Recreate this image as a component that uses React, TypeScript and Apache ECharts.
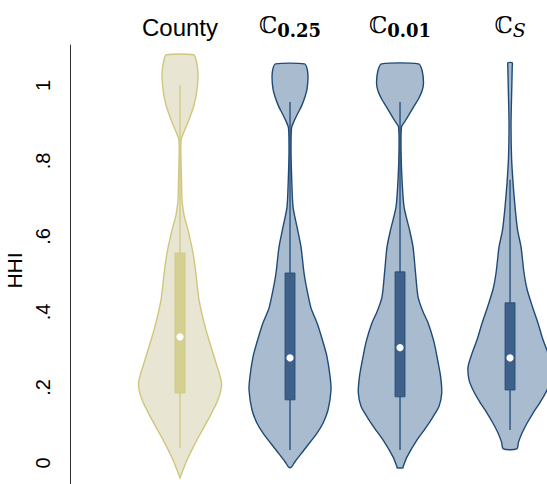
import React, { useEffect, useRef } from "react";
import * as echarts from "echarts";

// ---- data ----
const categories = ["County", "C0.25", "C0.01", "CS"];
const positions = [1, 2, 3, 4];
const yTicks = [0, 0.2, 0.4, 0.6, 0.8, 1];

// violin density profiles: HHI value and half-width (density, px-like units)
const countyY = [1.081, 1.068, 1.033, 0.988, 0.948, 0.909, 0.877, 0.856, 0.829, 0.75, 0.697, 0.657, 0.617, 0.556, 0.5, 0.432, 0.352, 0.273, 0.212, 0.167, 0.114, 0.061, 0.008, -0.04];
const countyW = [13.5, 16, 18, 17, 14, 9, 4, 1.2, 0.8, 1.5, 2, 4, 8, 13, 16, 19, 26, 35, 41.5, 38, 28, 17, 7, 0];

const c025Y = [1.057, 1.045, 1.023, 0.99, 0.97, 0.945, 0.927, 0.905, 0.887, 0.83, 0.768, 0.678, 0.625, 0.572, 0.503, 0.458, 0.41, 0.371, 0.32, 0.281, 0.23, 0.193, 0.14, 0.105, 0.079, 0.034, 0.003, -0.011, -0.013];
const c025W = [14.5, 17, 18, 17, 15, 11.5, 8, 4, 1.5, 1, 1.5, 3, 7, 11, 14, 17, 21, 27, 33, 37, 40, 41, 38, 33, 27, 14, 5, 1.5, 0];

const c001Y = [1.057, 1.04, 1.007, 0.985, 0.962, 0.945, 0.927, 0.905, 0.89, 0.83, 0.75, 0.678, 0.617, 0.572, 0.503, 0.44, 0.4, 0.371, 0.32, 0.281, 0.23, 0.185, 0.15, 0.122, 0.09, 0.061, 0.016, -0.011, -0.013];
const c001W = [18.5, 22, 23.5, 22, 18, 14, 10, 5, 1.5, 1, 2, 4, 9.5, 13, 15.5, 18, 23, 28, 34, 37, 40.5, 41.7, 39, 33, 25, 17, 7, 3, 3];

const csY = [1.06, 1.05, 1.0, 0.9, 0.81, 0.742, 0.678, 0.617, 0.572, 0.503, 0.46, 0.413, 0.37, 0.326, 0.29, 0.254, 0.22, 0.193, 0.16, 0.132, 0.105, 0.079, 0.055, 0.037];
const csW = [2.2, 2.2, 1.8, 1, 1.5, 3, 5, 7.5, 11, 14, 17, 22.5, 28, 33, 38, 42, 41, 37, 30, 23, 17, 12, 8.5, 6.7];

// box plot statistics
const whiskerLow = [0.04, 0.034, 0.034, 0.087];
const whiskerHigh = [1.0, 0.956, 0.956, 0.75];
const q1 = [0.185, 0.167, 0.175, 0.193];
const q3 = [0.556, 0.503, 0.506, 0.424];
const medians = [0.334, 0.278, 0.305, 0.278];

const profilesY = [countyY, c025Y, c001Y, csY];
const profilesW = [countyW, c025W, c001W, csW];

const WIDTH_UNIT = 1 / 110;
const BOX_HALF = 5 / 110;

const fills = ["#E9E5D3", "#A9BBCE", "#A9BBCE", "#A9BBCE"];
const strokes = ["#CFC77E", "#1F4A77", "#1F4A77", "#1F4A77"];
const boxFills = ["#D5CF92", "#3D6189", "#3D6189", "#3D6189"];

const topLabels: Record<number, string> = {
  1: "{n|County}",
  2: "{c|\u2102}{b|0.25}",
  3: "{c|\u2102}{b|0.01}",
  4: "{c|\u2102}{i|S}",
};

export default function App() {
  const ref = useRef<HTMLDivElement>(null);
  useEffect(() => {
    if (!ref.current) return;
    const chart = echarts.init(ref.current, null, { renderer: "svg" });
    const option: any = {
      animation: false,
      backgroundColor: "#ffffff",
      grid: { left: 59, right: 0, top: 45, bottom: 0, containLabel: false, outerBoundsMode: "none" },
      xAxis: [
        { type: "value", min: -0.1, max: 4.336, show: false, position: "bottom" },
        {
          type: "value",
          min: -0.1,
          max: 4.336,
          position: "top",
          axisLine: { show: false },
          axisTick: { show: false },
          splitLine: { show: false },
          axisLabel: {
            customValues: positions,
            margin: 6,
            formatter: (v: number) => topLabels[Math.round(v)] || "",
            rich: {
              n: { fontFamily: "Liberation Sans", fontSize: 24, color: "#000", lineHeight: 28, verticalAlign: "bottom" },
              c: { fontFamily: "DejaVu Serif", fontSize: 23, color: "#000", lineHeight: 28, verticalAlign: "bottom", padding: [0, 0, 3, 0] },
              b: { fontFamily: "DejaVu Serif", fontWeight: "bold", fontSize: 18, color: "#000", lineHeight: 28, verticalAlign: "bottom" },
              i: { fontFamily: "DejaVu Serif", fontStyle: "italic", fontSize: 19, color: "#000", lineHeight: 28, verticalAlign: "bottom" },
            },
          },
        },
      ],
      yAxis: {
        type: "value",
        min: -0.056,
        max: 1.107,
        position: "left",
        axisLine: { show: true, lineStyle: { color: "#333", width: 1 } },
        axisTick: { show: false },
        splitLine: { show: false },
        axisLabel: {
          customValues: yTicks,
          rotate: 90,
          margin: 6,
          fontSize: 20,
          fontFamily: "Liberation Sans",
          color: "#000",
          formatter: (v: number) => (v === 0 ? "0" : v === 1 ? "1" : String(v).replace(/^0/, "")),
        },
        name: "HHI",
        nameLocation: "middle",
        nameRotate: 90,
        nameGap: 27,
        nameTextStyle: { fontSize: 21, fontFamily: "Liberation Sans", color: "#000", padding: [0, 12, 0, 0] },
      },
      series: [
        {
          type: "custom",
          xAxisIndex: 0,
          yAxisIndex: 0,
          clip: true,
          data: positions.map((p) => [p]),
          encode: { x: 0 },
          renderItem: (params: any, api: any) => {
            const i = params.dataIndex;
            const cx = api.value(0);
            const ys = profilesY[i];
            const ws = profilesW[i];
            const left = ys.map((y, k) => api.coord([cx - ws[k] * WIDTH_UNIT, y]));
            const right = ys.map((y, k) => api.coord([cx + ws[k] * WIDTH_UNIT, y])).reverse();
            const a = api.coord([cx - BOX_HALF, q3[i]]);
            const b = api.coord([cx + BOX_HALF, q1[i]]);
            const wl = api.coord([cx, whiskerLow[i]]);
            const wh = api.coord([cx, whiskerHigh[i]]);
            const m = api.coord([cx, medians[i]]);
            const st = { fill: fills[i], stroke: strokes[i], lineWidth: 1.4 };
            return {
              type: "group",
              children: [
                { type: "polygon", shape: { points: left.concat(right), smooth: 0.25 }, style: st },
                { type: "line", shape: { x1: wl[0], y1: wl[1], x2: wh[0], y2: wh[1] }, style: { stroke: strokes[i], lineWidth: 1.3 } },
                { type: "rect", shape: { x: a[0], y: a[1], width: b[0] - a[0], height: b[1] - a[1] }, style: { fill: boxFills[i], stroke: strokes[i], lineWidth: 0.8 } },
                { type: "circle", shape: { cx: m[0], cy: m[1], r: 3.6 }, style: { fill: "#ffffff" } },
              ],
            };
          },
        },
      ],
    };
    chart.setOption(option);
    return () => chart.dispose();
  }, []);
  return <div ref={ref} style={{ position: "fixed", left: 0, top: 0, width: 547, height: 484 }} />;
}
